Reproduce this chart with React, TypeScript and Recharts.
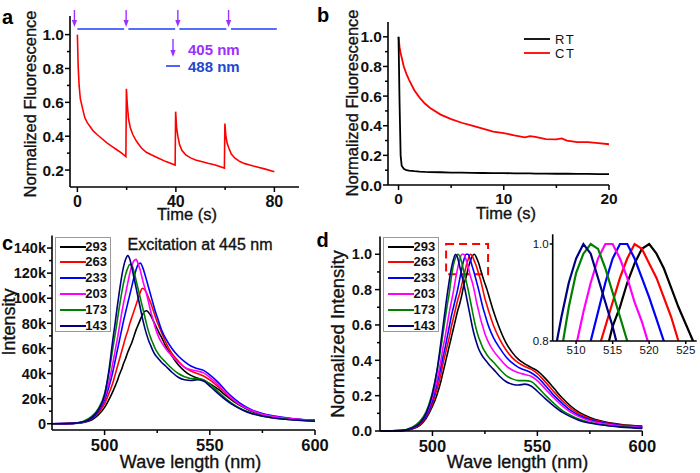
import React from 'react';
import { ComposedChart, LineChart, Line, XAxis, YAxis, Scatter, ReferenceArea } from 'recharts';

const FONT = '"Liberation Sans", Arial, Helvetica, sans-serif';

// ---------- Panel a : photoswitching under 488 nm with 405 nm pulses ----------
const A_TIME = [0, 0.3, 0.7, 1.2, 2, 3, 4, 5, 6.5, 8, 10, 12, 14, 16, 18, 19.7, 19.9, 20.3, 20.8, 21.5, 22.5, 24, 26, 28, 30, 33, 36, 39.7, 39.9, 40.3, 40.8, 41.5, 42.5, 44, 46, 48, 50, 53, 56, 59.7, 59.9, 60.3, 60.8, 61.5, 62.5, 64, 66, 68, 70, 73, 76, 80];
const A_NORM = [1.0, 0.82, 0.7, 0.62, 0.57, 0.51, 0.48, 0.46, 0.43, 0.41, 0.385, 0.36, 0.34, 0.32, 0.3, 0.28, 0.68, 0.58, 0.5, 0.45, 0.41, 0.37, 0.33, 0.305, 0.29, 0.27, 0.25, 0.23, 0.545, 0.45, 0.4, 0.35, 0.315, 0.29, 0.272, 0.26, 0.252, 0.24, 0.23, 0.212, 0.475, 0.4, 0.36, 0.33, 0.295, 0.27, 0.25, 0.238, 0.23, 0.218, 0.207, 0.19];
const A_PULSE_405 = [-1.2, 19.8, 40.8, 61.4];
const A_PULSE_LEVEL = 1.045;
const A_BEAM_488: [number, number][] = [[0, 19], [20.7, 39.7], [41.4, 60.5], [62.4, 81]];
const A_BEAM_LEVEL = 1.033;

// ---------- Panel b : RT vs CT ----------
const B_TIME = [0, 0.1, 0.2, 0.3, 0.5, 0.75, 1, 1.5, 2, 2.5, 3, 4, 5, 6, 7, 8, 9, 10, 11, 12, 12.5, 13, 14, 15, 15.5, 16, 17, 18, 19, 20];
const B_CT = [1.0, 0.93, 0.89, 0.86, 0.8, 0.75, 0.71, 0.64, 0.59, 0.55, 0.52, 0.475, 0.445, 0.42, 0.4, 0.38, 0.36, 0.35, 0.335, 0.322, 0.33, 0.325, 0.31, 0.308, 0.315, 0.3, 0.29, 0.29, 0.283, 0.275];
const B_RT = [1.0, 0.55, 0.2, 0.13, 0.11, 0.1, 0.097, 0.093, 0.09, 0.088, 0.087, 0.086, 0.083, 0.084, 0.082, 0.081, 0.08, 0.08, 0.079, 0.078, 0.078, 0.077, 0.077, 0.076, 0.076, 0.076, 0.075, 0.075, 0.074, 0.074];

// ---------- Panels c / d : spectra ----------
const WL = [475, 485, 490, 494, 497, 500, 502, 504, 505, 506, 507, 508, 509, 510, 511, 512, 513, 514, 515, 516, 517, 518, 519, 520, 521, 522, 523, 524, 525, 526, 527, 529, 532, 535, 538, 541, 544, 547, 550, 554, 558, 562, 566, 570, 575, 580, 590, 600];
const TEMPS = ['293', '263', '233', '203', '173', '143'];

// intensity in thousands of counts
const C_293 = [0, 0.2, 1, 3.2, 7, 13, 19, 26, 30, 34, 39, 43, 48, 52, 57, 61, 65, 70, 75, 79, 83, 87, 89.5, 90, 88.5, 86, 82.5, 79, 75.5, 72, 69, 62, 54, 47, 42, 38.5, 36.5, 34.5, 32, 27.5, 22, 17, 13, 9.7, 7.1, 5.4, 3.5, 2.6];
const C_263 = [0, 0.3, 1.2, 4, 8.5, 16, 24, 33, 39, 45, 51, 57, 63, 69, 74, 80, 85, 90, 95, 100, 105, 108, 107, 104, 100, 96, 91, 86, 81, 77, 73, 65, 56, 50, 45, 42, 40, 38, 35, 29.5, 23.5, 18, 13.8, 10.5, 7.6, 5.8, 3.7, 2.7];
const C_233 = [0, 0.3, 1.4, 4.5, 10, 19, 29, 42, 50, 58, 66, 74, 82, 89, 96, 103, 110, 117, 123, 127, 128, 125, 120, 114, 108, 102, 96, 90, 85, 80, 75, 68, 60, 54, 49.5, 46, 44, 42.5, 39, 33, 25.5, 19.5, 14.5, 11, 8.2, 6.4, 4, 2.8];
const C_203 = [0, 0.3, 1.6, 5, 11, 21, 33, 49, 58, 67, 77, 87, 96, 104, 112, 120, 126, 130, 131, 127, 122, 115, 109, 103, 96, 89, 83, 77, 72, 68, 65, 60, 54, 49, 45, 43, 42, 40.5, 37, 31, 24, 18, 13.5, 10.5, 7.6, 5.9, 3.7, 2.6];
const C_173 = [0, 0.4, 2, 6, 12, 24, 40, 61, 71, 82, 93, 103, 112, 119, 124, 127, 126, 121, 114, 107, 100, 93, 86, 79, 73, 68, 64, 60, 57, 54.5, 52.5, 49, 44, 40, 37.5, 36, 36, 35, 31.5, 25.5, 19.5, 14.5, 11, 8.4, 6.1, 4.7, 3, 2.2];
const C_143 = [0, 0.3, 1.5, 5, 11, 23, 42, 68, 80, 93, 105, 116, 125, 131, 134, 131, 124, 116, 108, 100, 92, 84, 77, 71, 66, 62, 58, 55, 53, 51, 49, 46, 41, 37, 35, 34.5, 35, 34, 30, 24, 18.5, 14, 10.5, 8, 6, 4.6, 3, 2];

// normalized intensity
const D_293 = [0, 0.002, 0.01, 0.032, 0.072, 0.14, 0.2, 0.28, 0.33, 0.38, 0.43, 0.48, 0.53, 0.58, 0.63, 0.68, 0.72, 0.77, 0.83, 0.87, 0.92, 0.96, 0.99, 1.0, 0.98, 0.95, 0.91, 0.87, 0.835, 0.8, 0.76, 0.68, 0.58, 0.5, 0.445, 0.405, 0.38, 0.36, 0.34, 0.295, 0.24, 0.185, 0.14, 0.105, 0.077, 0.058, 0.037, 0.028];
const D_263 = [0, 0.002, 0.011, 0.036, 0.08, 0.155, 0.23, 0.32, 0.38, 0.43, 0.48, 0.53, 0.59, 0.64, 0.69, 0.74, 0.78, 0.83, 0.88, 0.93, 0.97, 1.0, 0.99, 0.96, 0.93, 0.89, 0.85, 0.8, 0.75, 0.71, 0.67, 0.6, 0.52, 0.46, 0.415, 0.385, 0.365, 0.35, 0.325, 0.275, 0.22, 0.17, 0.128, 0.097, 0.07, 0.054, 0.034, 0.025];
const D_233 = [0, 0.002, 0.012, 0.04, 0.085, 0.17, 0.26, 0.36, 0.42, 0.47, 0.53, 0.59, 0.65, 0.7, 0.75, 0.8, 0.86, 0.92, 0.97, 1.0, 1.0, 0.97, 0.93, 0.89, 0.845, 0.8, 0.75, 0.7, 0.66, 0.62, 0.585, 0.53, 0.47, 0.42, 0.385, 0.36, 0.345, 0.33, 0.305, 0.255, 0.2, 0.155, 0.115, 0.088, 0.064, 0.05, 0.031, 0.022];
const D_203 = [0, 0.002, 0.014, 0.045, 0.095, 0.19, 0.28, 0.4, 0.47, 0.53, 0.6, 0.67, 0.73, 0.79, 0.86, 0.92, 0.97, 1.0, 1.0, 0.97, 0.93, 0.88, 0.84, 0.79, 0.73, 0.68, 0.63, 0.59, 0.55, 0.52, 0.495, 0.455, 0.41, 0.37, 0.345, 0.33, 0.32, 0.31, 0.285, 0.235, 0.185, 0.14, 0.105, 0.08, 0.058, 0.045, 0.028, 0.02];
const D_173 = [0, 0.003, 0.02, 0.055, 0.11, 0.22, 0.33, 0.47, 0.55, 0.63, 0.71, 0.78, 0.87, 0.94, 0.98, 1.0, 0.99, 0.95, 0.9, 0.85, 0.8, 0.74, 0.68, 0.62, 0.57, 0.53, 0.5, 0.47, 0.45, 0.43, 0.415, 0.39, 0.35, 0.315, 0.295, 0.285, 0.285, 0.28, 0.25, 0.2, 0.155, 0.115, 0.088, 0.066, 0.048, 0.037, 0.024, 0.017];
const D_143 = [0, 0.002, 0.015, 0.045, 0.1, 0.21, 0.33, 0.5, 0.59, 0.68, 0.77, 0.85, 0.92, 0.97, 1.0, 0.98, 0.93, 0.88, 0.83, 0.77, 0.71, 0.65, 0.59, 0.54, 0.5, 0.465, 0.44, 0.42, 0.405, 0.39, 0.375, 0.35, 0.31, 0.28, 0.265, 0.26, 0.265, 0.255, 0.225, 0.18, 0.14, 0.105, 0.08, 0.06, 0.045, 0.035, 0.022, 0.015];

const D_ZOOM_BOX = { x1: 506.5, x2: 526.5, y1: 0.887, y2: 1.058 };

// ---------- styles ----------
const PURPLE = '#9b30ff';
const BLUE488 = '#1f3fff';
const TEMP_COLORS: Record<string, string> = {
  '293': '#000000', '263': '#ff0000', '233': '#0000ff', '203': '#ff00ff', '173': '#008000', '143': '#000080',
};

// ---------- data tables ----------
const aRed = A_TIME.map((t, i) => ({ x: t, y: A_NORM[i] }));
const aBeam = A_BEAM_488.flatMap(([s, e]) => [
  { x: s, y: A_BEAM_LEVEL as number | null },
  { x: e, y: A_BEAM_LEVEL as number | null },
  { x: e, y: null },
]);
const aPulse = A_PULSE_405.map((t) => ({ x: t, y: A_PULSE_LEVEL }));
const bRows = B_TIME.map((t, i) => ({ x: t, RT: B_RT[i], CT: B_CT[i] }));
const C_SERIES: Record<string, number[]> = { '293': C_293, '263': C_263, '233': C_233, '203': C_203, '173': C_173, '143': C_143 };
const D_SERIES: Record<string, number[]> = { '293': D_293, '263': D_263, '233': D_233, '203': D_203, '173': D_173, '143': D_143 };
const cRows = WL.map((w, i) => {
  const r: Record<string, number> = { wl: w };
  TEMPS.forEach((k) => { r['t' + k] = C_SERIES[k][i]; });
  return r;
});
const dRows = WL.map((w, i) => {
  const r: Record<string, number> = { wl: w };
  TEMPS.forEach((k) => { r['t' + k] = D_SERIES[k][i]; });
  return r;
});

// ---------- tick helper ----------
type TickCfg = {
  side: 'bottom' | 'left'; major: number[]; fmt: (v: number) => string; size: number; gap: number;
  weight?: number; majorLen?: number; minorLen?: number;
};
const makeTick = (c: TickCfg) => (p: any) => {
  const v = Number(p.payload.value);
  const isMajor = c.major.some((m) => Math.abs(m - v) < 1e-6);
  const L = isMajor ? (c.majorLen ?? 5) : (c.minorLen ?? 3);
  if (c.side === 'bottom') {
    return (
      <g>
        <line x1={p.x} x2={p.x} y1={p.y} y2={p.y + L} stroke="#000" strokeWidth={1.5} />
        {isMajor && (
          <text x={p.x} y={p.y + c.gap} textAnchor="middle" fontSize={c.size} fontWeight={c.weight ?? 700} fontFamily={FONT} fill="#111">{c.fmt(v)}</text>
        )}
      </g>
    );
  }
  return (
    <g>
      <line x1={p.x - L} x2={p.x} y1={p.y} y2={p.y} stroke="#000" strokeWidth={1.5} />
      {isMajor && (
        <text x={p.x - c.gap} y={p.y} dy="0.36em" textAnchor="end" fontSize={c.size} fontWeight={c.weight ?? 700} fontFamily={FONT} fill="#111">{c.fmt(v)}</text>
      )}
    </g>
  );
};
const f1 = (v: number) => v.toFixed(1);
const fi = (v: number) => String(Math.round(v));
const fk = (v: number) => (v === 0 ? '0' : `${v}k`);
const axisLine = { stroke: '#000', strokeWidth: 1.6 };
const sortNums = (a: number[]) => [...a].sort((x, y) => x - y);

const A_X_MAJOR = [0, 40, 80];
const A_X_MINOR = [20, 60];
const A_Y_MAJOR = [0.2, 0.4, 0.6, 0.8, 1.0];
const A_Y_MINOR = [0.3, 0.5, 0.7, 0.9];
const B_X_MAJOR = [0, 10, 20];
const B_X_MINOR = [5, 15];
const N_Y_MAJOR = [0, 0.2, 0.4, 0.6, 0.8, 1.0];
const N_Y_MINOR = [0.1, 0.3, 0.5, 0.7, 0.9];
const S_X_MAJOR = [500, 550, 600];
const S_X_MINOR = [525, 575];
const C_Y_MAJOR = [0, 20, 40, 60, 80, 100, 120, 140];
const C_Y_MINOR = [10, 30, 50, 70, 90, 110, 130];
const I_X_MAJOR = [510, 515, 520, 525];
const I_Y_MAJOR = [0.8, 1.0];

// ---------- overlay helpers ----------
const Txt = ({ x, y, size, weight = 400, color = '#111', rotate = false, anchor = 'middle', spacing = 0, heavy = false, children }: any) => (
  <div
    style={{
      position: 'absolute', left: x, top: y, fontSize: size, fontWeight: weight, color, fontFamily: FONT,
      whiteSpace: 'nowrap', lineHeight: 1, letterSpacing: spacing,
      WebkitTextStroke: heavy ? `0.35px ${color}` : undefined,
      transform: `translate(${anchor === 'start' ? '0' : '-50%'},-50%)${rotate ? ' rotate(-90deg)' : ''}`,
    }}
  >
    {children}
  </div>
);

const TempLegend = ({ left, top }: { left: number; top: number }) => (
  <div style={{ position: 'absolute', left, top, width: 56, height: 95, border: '1px solid #9a9a9a', background: '#fff', boxSizing: 'border-box' }}>
    {TEMPS.map((k, i) => (
      <div key={k} style={{ position: 'absolute', left: 0, top: 1 + i * 15.8, height: 16, width: '100%' }}>
        <svg width={28} height={16} style={{ position: 'absolute', left: 3, top: 0 }}>
          <line x1={1} x2={27} y1={8} y2={8} stroke={TEMP_COLORS[k]} strokeWidth={2} />
        </svg>
        <span style={{ position: 'absolute', right: 3, top: 0, lineHeight: '16px', fontSize: 13, fontWeight: 700, fontFamily: FONT, color: '#111' }}>{k}</span>
      </div>
    ))}
  </div>
);

const ArrowShape = (p: any) => {
  const { cx, cy } = p;
  return (
    <g>
      <line x1={cx} x2={cx} y1={cy - 17} y2={cy - 5} stroke={PURPLE} strokeWidth={1.4} />
      <path d={`M${cx - 2.6},${cy - 7} L${cx + 2.6},${cy - 7} L${cx},${cy} Z`} fill={PURPLE} />
    </g>
  );
};

export default function App() {
  return (
    <div style={{ position: 'absolute', left: 0, top: 0, width: 700, height: 473, background: '#fff', overflow: 'hidden', fontFamily: FONT }}>
      {/* Panel a */}
      <div style={{ position: 'absolute', left: 0, top: 0 }}>
        <ComposedChart width={310} height={230} margin={{ top: 16, right: 11, bottom: 0, left: 0 }}>
          <XAxis type="number" dataKey="x" domain={[-3, 90]} ticks={sortNums([...A_X_MAJOR, ...A_X_MINOR])} interval={0}
            height={43} axisLine={axisLine} tickLine={false} tickSize={0} tickMargin={0}
            tick={makeTick({ side: 'bottom', major: A_X_MAJOR, fmt: fi, size: 16, gap: 20 })} />
          <YAxis type="number" dataKey="y" domain={[0.1, 1.11]} ticks={sortNums([...A_Y_MAJOR, ...A_Y_MINOR])} interval={0}
            width={70} axisLine={axisLine} tickLine={false} tickSize={0} tickMargin={0}
            tick={makeTick({ side: 'left', major: A_Y_MAJOR, fmt: f1, size: 15.5, gap: 6 })} />
          <Line data={aBeam} dataKey="y" type="linear" stroke={BLUE488} strokeWidth={1.6} dot={false} connectNulls={false} isAnimationActive={false} />
          <Line data={aRed} dataKey="y" type="linear" stroke="#ff0000" strokeWidth={1.6} dot={false} isAnimationActive={false} />
          <Scatter data={aPulse} dataKey="y" shape={ArrowShape} isAnimationActive={false} />
        </ComposedChart>
      </div>
      {/* legend a */}
      <svg style={{ position: 'absolute', left: 160, top: 34 }} width={26} height={40}>
        <line x1={13} x2={13} y1={5} y2={17} stroke={PURPLE} strokeWidth={1.4} />
        <path d="M10.4,16 L15.6,16 L13,23 Z" fill={PURPLE} />
        <line x1={6} x2={20} y1={32} y2={32} stroke={BLUE488} strokeWidth={1.6} />
      </svg>
      <Txt x={188} y={49} size={15} weight={700} color={PURPLE} anchor="start">405 nm</Txt>
      <Txt x={188} y={66} size={15} weight={700} color="#2347d0" anchor="start">488 nm</Txt>
      <Txt x={30} y={103.5} size={16.5} rotate heavy>Normalized Fluorescence</Txt>
      <Txt x={187} y={214} size={16.5} heavy>Time (s)</Txt>
      <Txt x={7.5} y={17} size={20} weight={700} color="#000">a</Txt>

      {/* Panel b */}
      <div style={{ position: 'absolute', left: 350, top: 0 }}>
        <LineChart width={285} height={230} data={bRows} margin={{ top: 22, right: 26, bottom: 0, left: 0 }}>
          <XAxis type="number" dataKey="x" domain={[-1, 20]} ticks={sortNums([...B_X_MAJOR, ...B_X_MINOR])} interval={0}
            height={45} axisLine={axisLine} tickLine={false} tickSize={0} tickMargin={0}
            tick={makeTick({ side: 'bottom', major: B_X_MAJOR, fmt: fi, size: 15.5, gap: 19 })} />
          <YAxis type="number" domain={[0, 1.1]} ticks={sortNums([...N_Y_MAJOR, ...N_Y_MINOR])} interval={0}
            width={38} axisLine={axisLine} tickLine={false} tickSize={0} tickMargin={0}
            tick={makeTick({ side: 'left', major: N_Y_MAJOR, fmt: f1, size: 15.5, gap: 6 })} />
          <Line dataKey="CT" type="linear" stroke="#ff0000" strokeWidth={1.8} dot={false} isAnimationActive={false} />
          <Line dataKey="RT" type="linear" stroke="#000000" strokeWidth={1.8} dot={false} isAnimationActive={false} />
        </LineChart>
      </div>
      <svg style={{ position: 'absolute', left: 520, top: 30 }} width={34} height={30}>
        <line x1={4} x2={30} y1={9} y2={9} stroke="#000" strokeWidth={1.8} />
        <line x1={4} x2={30} y1={23} y2={23} stroke="#ff0000" strokeWidth={1.8} />
      </svg>
      <Txt x={555} y={39} size={13} anchor="start" spacing={1.5}>RT</Txt>
      <Txt x={555} y={53} size={13} anchor="start" spacing={1.5}>CT</Txt>
      <Txt x={352} y={103} size={16.5} rotate heavy>Normalized Fluorescence</Txt>
      <Txt x={506} y={213} size={16.5} heavy>Time (s)</Txt>
      <Txt x={323} y={15} size={20} weight={700} color="#000">b</Txt>

      {/* Panel c */}
      <div style={{ position: 'absolute', left: 0, top: 230 }}>
        <LineChart width={340} height={243} data={cRows} margin={{ top: 5.5, right: 25, bottom: 0, left: 0 }}>
          <XAxis type="number" dataKey="wl" domain={[475, 600]} ticks={sortNums([...S_X_MAJOR, ...S_X_MINOR])} interval={0}
            height={43} axisLine={axisLine} tickLine={false} tickSize={0} tickMargin={0}
            tick={makeTick({ side: 'bottom', major: S_X_MAJOR, fmt: fi, size: 16.5, gap: 20.5 })} />
          <YAxis type="number" domain={[-5, 150]} ticks={sortNums([...C_Y_MAJOR, ...C_Y_MINOR])} interval={0}
            width={52} axisLine={axisLine} tickLine={false} tickSize={0} tickMargin={0}
            tick={makeTick({ side: 'left', major: C_Y_MAJOR, fmt: fk, size: 14.5, gap: 6 })} />
          {TEMPS.map((k) => (
            <Line key={k} dataKey={'t' + k} name={k} type="monotone" stroke={TEMP_COLORS[k]} strokeWidth={1.6} dot={false} isAnimationActive={false} />
          ))}
        </LineChart>
      </div>
      <TempLegend left={55} top={236.7} />
      <Txt x={200} y={245} size={16} heavy>Excitation at 445 nm</Txt>
      <Txt x={9} y={321.5} size={18} rotate heavy>Intensity</Txt>
      <Txt x={190.5} y={461.5} size={18} heavy>Wave length (nm)</Txt>
      <Txt x={7.5} y={243} size={20} weight={700} color="#000">c</Txt>

      {/* Panel d */}
      <div style={{ position: 'absolute', left: 350, top: 230 }}>
        <LineChart width={320} height={243} data={dRows} margin={{ top: 6.6, right: 27.7, bottom: 0, left: 0 }}>
          <XAxis type="number" dataKey="wl" domain={[475, 600]} ticks={sortNums([...S_X_MAJOR, ...S_X_MINOR])} interval={0}
            height={42} axisLine={axisLine} tickLine={false} tickSize={0} tickMargin={0}
            tick={makeTick({ side: 'bottom', major: S_X_MAJOR, fmt: fi, size: 16.5, gap: 20.5 })} />
          <YAxis type="number" domain={[0, 1.1]} ticks={sortNums([...N_Y_MAJOR, ...N_Y_MINOR])} interval={0}
            width={30} axisLine={axisLine} tickLine={false} tickSize={0} tickMargin={0}
            tick={makeTick({ side: 'left', major: N_Y_MAJOR, fmt: f1, size: 14.5, gap: 8 })} />
          {TEMPS.map((k) => (
            <Line key={k} dataKey={'t' + k} name={k} type="monotone" stroke={TEMP_COLORS[k]} strokeWidth={1.6} dot={false} isAnimationActive={false} />
          ))}
          <ReferenceArea x1={D_ZOOM_BOX.x1} x2={D_ZOOM_BOX.x2} y1={D_ZOOM_BOX.y1} y2={D_ZOOM_BOX.y2}
            fill="none" fillOpacity={0} stroke="#ff0000" strokeWidth={2} strokeDasharray="8 5" />
        </LineChart>
      </div>
      {/* inset of d */}
      <div style={{ position: 'absolute', left: 515, top: 225 }}>
        <LineChart width={185} height={140} data={dRows} margin={{ top: 9.3, right: 3.3, bottom: 0, left: 0 }}>
          <XAxis type="number" dataKey="wl" domain={[506.8, 526.5]} allowDataOverflow ticks={I_X_MAJOR} interval={0}
            height={24} axisLine={axisLine} tickLine={false} tickSize={0} tickMargin={0}
            tick={makeTick({ side: 'bottom', major: I_X_MAJOR, fmt: fi, size: 11.5, gap: 13, weight: 400, majorLen: 3 })} />
          <YAxis type="number" domain={[0.8, 1.02]} allowDataOverflow ticks={I_Y_MAJOR} interval={0}
            width={37.7} axisLine={axisLine} tickLine={false} tickSize={0} tickMargin={0}
            tick={makeTick({ side: 'left', major: I_Y_MAJOR, fmt: f1, size: 11.5, gap: 4, weight: 400, majorLen: 3 })} />
          {TEMPS.map((k) => (
            <Line key={k} dataKey={'t' + k} name={k} type="linear" stroke={TEMP_COLORS[k]} strokeWidth={2.2} dot={false} isAnimationActive={false} />
          ))}
        </LineChart>
      </div>
      <TempLegend left={383.3} top={236.7} />
      <Txt x={338} y={333.5} size={18.5} rotate heavy>Normalized Intensity</Txt>
      <Txt x={517.5} y={461.5} size={18} heavy>Wave length (nm)</Txt>
      <Txt x={322.5} y={240} size={20} weight={700} color="#000">d</Txt>
    </div>
  );
}
